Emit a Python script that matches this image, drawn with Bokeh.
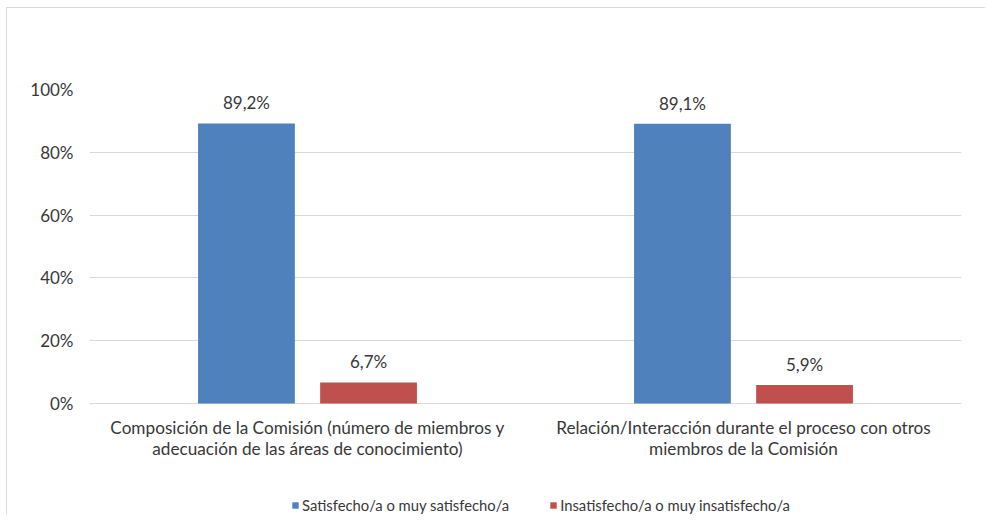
from bokeh.plotting import figure
from bokeh.models import ColumnDataSource, FactorRange, Range1d, NumeralTickFormatter, Legend, LegendItem, FixedTicker
from bokeh.transform import dodge
from bokeh.core.properties import value
from bokeh.embed import file_html
from bokeh.resources import INLINE

categories = [
    "Composición de la Comisión (número de miembros y\nadecuación de las áreas de conocimiento)",
    "Relación/Interacción durante el proceso con otros\nmiembros de la Comisión",
]
series_names = ["Satisfecho/a o muy satisfecho/a", "Insatisfecho/a o muy insatisfecho/a"]
satisfecho = [0.892, 0.891]
insatisfecho = [0.067, 0.059]
y_ticks = [0, 0.2, 0.4, 0.6, 0.8, 1.0]

FONT = "Lato"
TEXT = "#383838"
BLUE = "#4F81BD"
RED = "#C0504D"
GRID = "#d9d9d9"

def fmt(v):
    return ("%.1f%%" % (v * 100)).replace(".", ",")

source = ColumnDataSource(dict(
    cat=categories,
    sat=satisfecho,
    ins=insatisfecho,
    sat_lbl=[fmt(v) for v in satisfecho],
    ins_lbl=[fmt(v) for v in insatisfecho],
    zero=[0.0] * len(categories),
))

W, H = 979, 507
TOP, LEFT, RIGHT = 81, 82, 25
PLOT_PX = 314          # pixels between 0% and 100%
frame_h = H - TOP
y_start = -(frame_h - PLOT_PX) / PLOT_PX

p = figure(x_range=FactorRange(*categories, range_padding=0), y_range=Range1d(y_start, 1.0),
           width=W, height=H, output_backend="svg", toolbar_location=None,
           min_border_left=LEFT, min_border_right=RIGHT, min_border_top=TOP, min_border_bottom=0)
p.outline_line_color = None
p.styles = {"margin-left": "6px", "margin-top": "7px",
            "border-top": "1px solid #d9d9d9", "border-left": "1px solid #d9d9d9",
            "box-sizing": "border-box"}

r1 = p.vbar(x=dodge("cat", -0.14, range=p.x_range), top="sat", width=0.222, source=source,
            fill_color=BLUE, line_color=None)
r2 = p.vbar(x=dodge("cat", 0.14, range=p.x_range), top="ins", width=0.222, source=source,
            fill_color=RED, line_color=None)

for col, lbl, off in (("sat", "sat_lbl", -0.14), ("ins", "ins_lbl", 0.14)):
    p.text(x=dodge("cat", off, range=p.x_range), y=col, text=lbl, source=source,
           text_align="center", text_baseline="bottom", y_offset=-10,
           text_font=value(FONT), text_font_size="17px", text_color=TEXT)

# category labels below the 0% line
p.text(x="cat", y="zero", text="cat", source=source, text_align="center", text_baseline="top",
       y_offset=13, text_font=value(FONT), text_font_size="17.2px", text_color=TEXT,
       text_line_height=1.0)

p.yaxis.ticker = FixedTicker(ticks=y_ticks)
p.yaxis.formatter = NumeralTickFormatter(format="0%")
p.yaxis.axis_line_color = None
p.yaxis.major_tick_line_color = None
p.yaxis.minor_tick_line_color = None
p.yaxis.major_label_standoff = 10
p.yaxis.major_label_text_font = FONT
p.yaxis.major_label_text_font_size = "17px"
p.yaxis.major_label_text_color = TEXT

p.xaxis.visible = False
p.xgrid.grid_line_color = None
p.ygrid.grid_line_color = GRID
p.ygrid.ticker = FixedTicker(ticks=y_ticks)

legend = Legend(items=[LegendItem(label=series_names[0], renderers=[r1]),
                       LegendItem(label=series_names[1], renderers=[r2])],
                orientation="horizontal", location=(202, 1),
                glyph_width=8, glyph_height=8, label_standoff=3, spacing=40,
                padding=0, margin=0, label_height=16,
                label_text_font=FONT, label_text_font_size="14.8px", label_text_color=TEXT,
                border_line_color=None, background_fill_alpha=0)
p.add_layout(legend, "center")

open("out.html", "w").write(file_html(p, INLINE))
